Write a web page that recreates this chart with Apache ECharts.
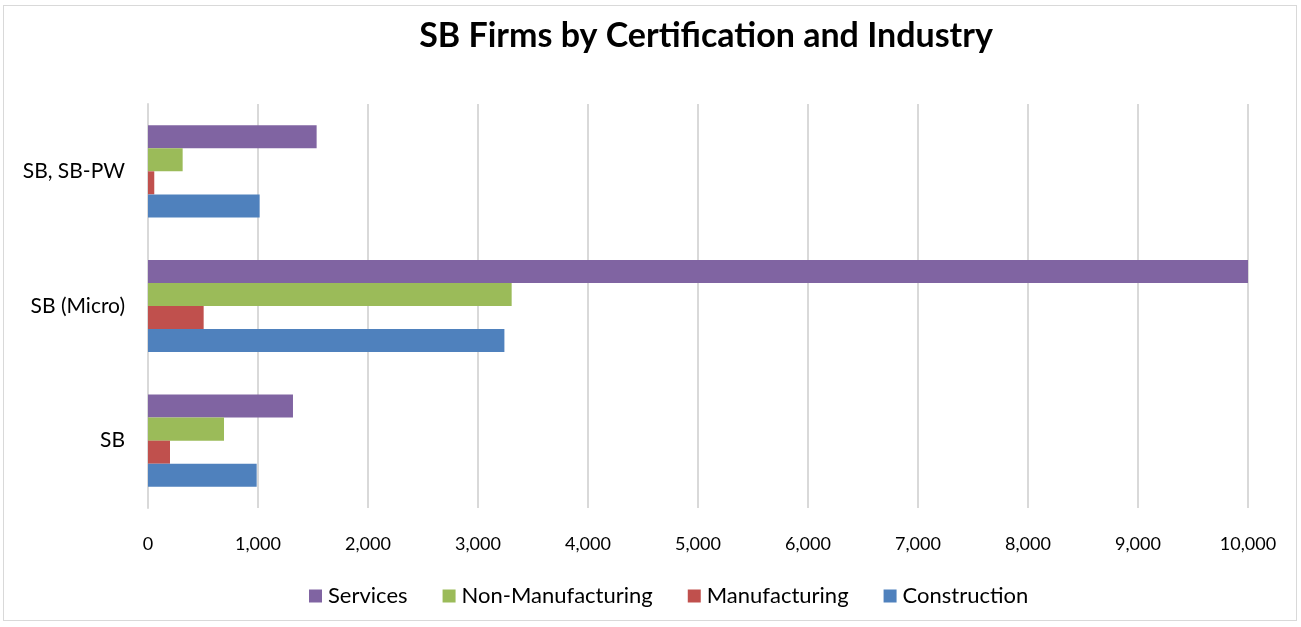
<!DOCTYPE html>
<html>
<head>
<meta charset="utf-8">
<script src="https://cdn.jsdelivr.net/npm/echarts@6/dist/echarts.min.js"></script>
<style>
html,body{margin:0;padding:0;background:#fff;}
#frame{position:absolute;left:3px;top:5px;width:1294px;height:616px;border:1px solid #d9d9d9;box-sizing:border-box;}
#chart{position:absolute;left:0;top:0;width:1301px;height:627px;}
</style>
</head>
<body>
<div id="frame"></div>
<div id="chart"></div>
<script>
const categories = ['SB', 'SB (Micro)', 'SB, SB-PW'];
const construction = [988, 3240, 1015];
const manufacturing = [200, 506, 57];
const nonManufacturing = [691, 3306, 315];
const services = [1318, 10005, 1533];
const xTicks = [0, 1000, 2000, 3000, 4000, 5000, 6000, 7000, 8000, 9000, 10000];

const font = 'Lato, "Liberation Sans", sans-serif';
const chart = echarts.init(document.getElementById('chart'), null, {renderer: 'canvas'});
chart.setOption({
  animation: false,
  title: {
    text: 'SB Firms by Certification and Industry',
    left: 701, top: 14, textAlign: 'center',
    textStyle: {fontFamily: font, fontWeight: 'bold', fontSize: 34, color: '#000'}
  },
  legend: {
    data: ['Services', 'Non-Manufacturing', 'Manufacturing', 'Construction'],
    left: 304, top: 580,
    itemWidth: 13, itemHeight: 13, itemGap: 35, icon: 'rect',
    textStyle: {fontFamily: font, fontSize: 22, color: '#000', padding: [0, 0, 0, 1]}
  },
  grid: {left: 148, right: 53, top: 104, bottom: 119, containLabel: false},
  xAxis: {
    type: 'value', min: xTicks[0], max: xTicks[xTicks.length - 1], interval: 1000,
    axisLine: {show: false}, axisTick: {show: false},
    splitLine: {show: true, lineStyle: {color: '#d9d9d9', width: 2}},
    axisLabel: {
      fontFamily: font, fontSize: 18, color: '#000', margin: 27,
      formatter: v => v.toLocaleString('en-US')
    }
  },
  yAxis: {
    type: 'category', data: categories,
    axisLine: {show: true, lineStyle: {color: '#d9d9d9', width: 2}},
    axisTick: {show: false},
    axisLabel: {fontFamily: font, fontSize: 21, color: '#000', margin: 23}
  },
  series: [
    {name: 'Services', type: 'bar', data: services, itemStyle: {color: '#8064A2'}, barGap: '0%', barCategoryGap: '31.5%'},
    {name: 'Non-Manufacturing', type: 'bar', data: nonManufacturing, itemStyle: {color: '#9BBB59'}},
    {name: 'Manufacturing', type: 'bar', data: manufacturing, itemStyle: {color: '#C0504D'}},
    {name: 'Construction', type: 'bar', data: construction, itemStyle: {color: '#4F81BD'}}
  ]
});
</script>
</body>
</html>
